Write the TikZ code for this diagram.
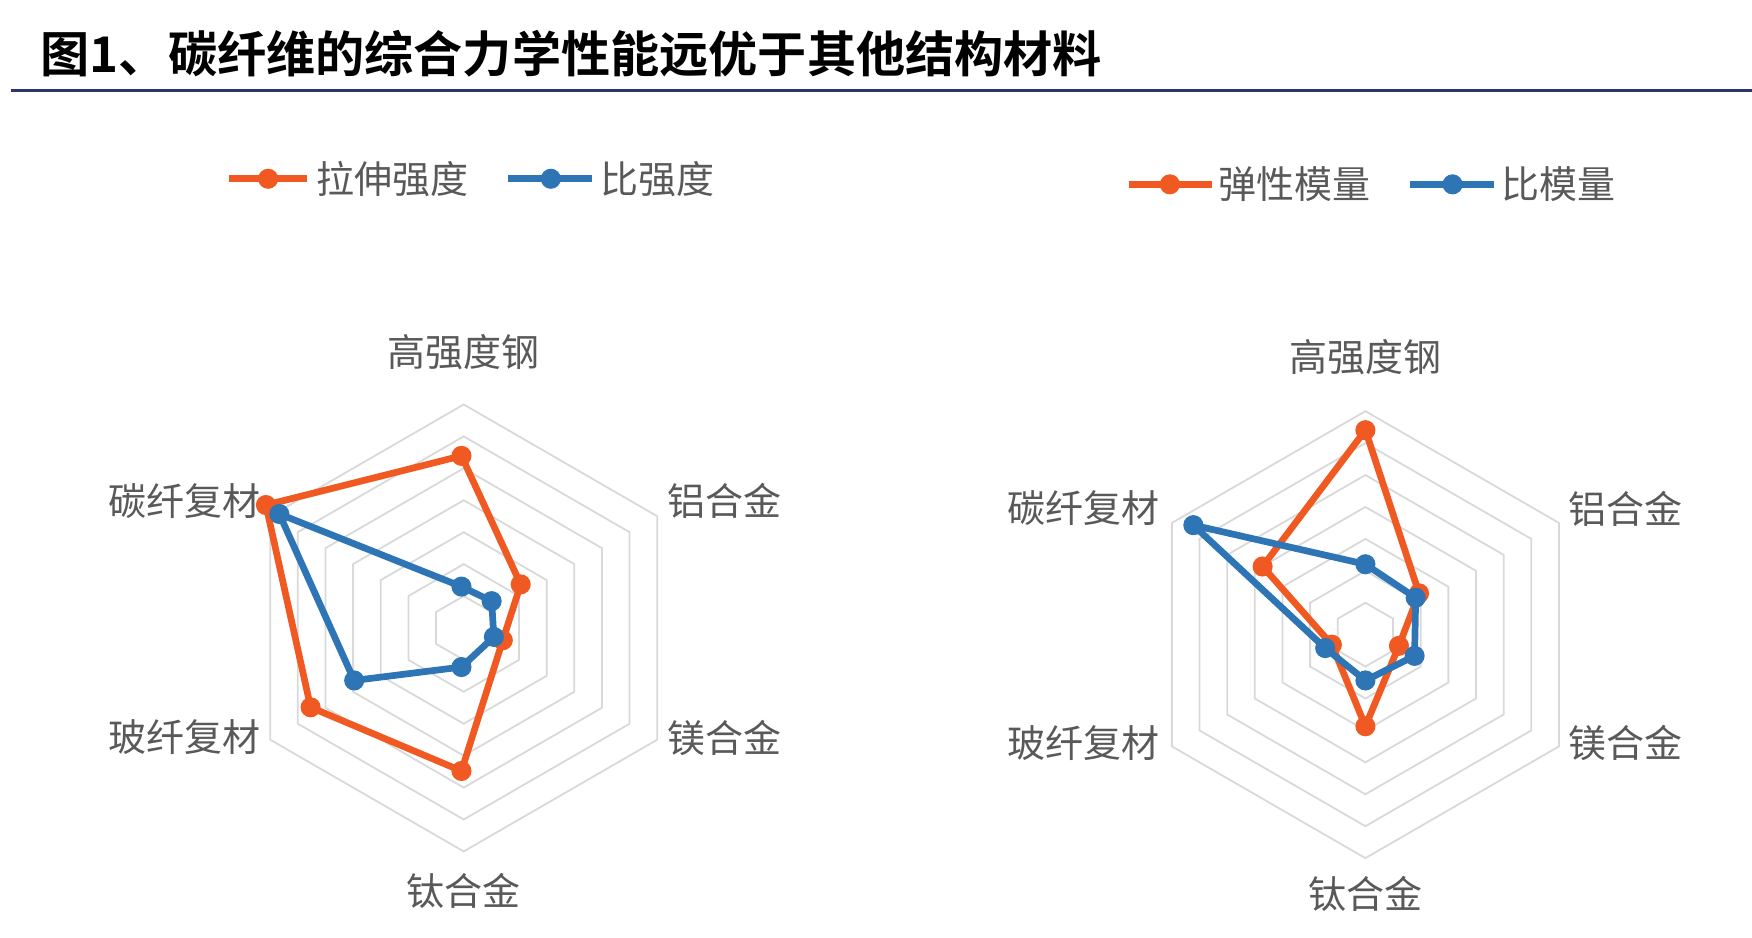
\documentclass[tikz,border=0pt]{standalone}
\usepackage{fontspec}
\usetikzlibrary{calc}
\newfontfamily\cjk{Noto Sans CJK SC}
\newfontfamily\cjkb{Noto Sans CJK SC Bold}
\definecolor{org}{HTML}{F05A22}
\definecolor{blu}{HTML}{2E75B6}
\definecolor{lab}{HTML}{595959}
\definecolor{grd}{HTML}{D9D9D9}
\definecolor{navy}{HTML}{2F3469}
\begin{document}
\begin{tikzpicture}[x=0.5pt,y=-0.5pt,
  lbl/.style={font=\cjk\fontsize{17}{17}\selectfont,text=lab,inner sep=0},
  dot/.style={circle,inner sep=0,minimum size=9pt},
  ser/.style={line width=3pt,line join=round},
  ring/.style={draw=grd,line width=0.8pt}]
\useasboundingbox (0,0) rectangle (1568,839);
\fill[white] (0,0) rectangle (1568,839);
\node[anchor=west,inner sep=0,font=\cjkb\fontsize{22}{22}\selectfont] (title) at (36,48) {图1、碳纤维的综合力学性能远优于其他结构材料};
\draw[navy,line width=1.5pt] (10,81) -- (1568,81);
% rings
\foreach \cx/\cy in {415/562,1222/568}{
  \foreach \k in {1,...,7}{
    \pgfmathsetmacro\r{\k*200/7}
    \draw[ring] ($(\cx,\cy)+(0,-\r)$) -- ($(\cx,\cy)+(0.866*\r,-0.5*\r)$) -- ($(\cx,\cy)+(0.866*\r,0.5*\r)$) -- ($(\cx,\cy)+(0,\r)$) -- ($(\cx,\cy)+(-0.866*\r,0.5*\r)$) -- ($(\cx,\cy)+(-0.866*\r,-0.5*\r)$) -- cycle;
  }
}
% left chart
\foreach \n/\p in {la1/{413,408},la2/{466,523},la3/{450,573},la4/{413,690},la5/{278,633},la6/{238,452}}{\coordinate (\n) at (\p);}
\foreach \n/\p in {lb1/{413,525},lb2/{440,538},lb3/{442,570},lb4/{413,597},lb5/{317,609},lb6/{250,460}}{\coordinate (\n) at (\p);}
\draw[ser,org] (la1)--(la2)--(la3)--(la4)--(la5)--(la6)--cycle;
\foreach \n in {la1,la2,la3,la4,la5,la6}{\node[dot,fill=org] at (\n){};}
\draw[ser,blu] (lb1)--(lb2)--(lb3)--(lb4)--(lb5)--(lb6)--cycle;
\foreach \n in {lb1,lb2,lb3,lb4,lb5,lb6}{\node[dot,fill=blu] at (\n){};}
% right chart
\foreach \n/\p in {ra1/{1222,385},ra2/{1270,531},ra3/{1252,578},ra4/{1222,650},ra5/{1192,577},ra6/{1130,507}}{\coordinate (\n) at (\p);}
\foreach \n/\p in {rb1/{1222,505},rb2/{1267,535},rb3/{1266,587},rb4/{1222,609},rb5/{1186,580},rb6/{1068,470}}{\coordinate (\n) at (\p);}
\draw[ser,org] (ra1)--(ra2)--(ra3)--(ra4)--(ra5)--(ra6)--cycle;
\foreach \n in {ra1,ra2,ra3,ra4,ra5,ra6}{\node[dot,fill=org] at (\n){};}
\draw[ser,blu] (rb1)--(rb2)--(rb3)--(rb4)--(rb5)--(rb6)--cycle;
\foreach \n in {rb1,rb2,rb3,rb4,rb5,rb6}{\node[dot,fill=blu] at (\n){};}
% axis labels
\node[lbl] (l1) at (415,315) {高强度钢};
\node[lbl] (l2) at (648,448) {铝合金};
\node[lbl] (l3) at (648,660) {镁合金};
\node[lbl] (l4) at (415,797) {钛合金};
\node[lbl] (l5) at (165,448) {碳纤复材};
\node[lbl] (l6) at (165,660) {玻纤复材};
\node[lbl] (r1) at (1222,320) {高强度钢};
\node[lbl] (r2) at (1455,455) {铝合金};
\node[lbl] (r3) at (1455,665) {镁合金};
\node[lbl] (r4) at (1222,800) {钛合金};
\node[lbl] (r5) at (970,455) {碳纤复材};
\node[lbl] (r6) at (970,665) {玻纤复材};
% legends
\coordinate (g1a) at (205,160); \coordinate (g1b) at (275,160);
\draw[ser,org] (g1a)--(g1b); \node[dot,fill=org] at (240,160){};
\node[lbl,anchor=west] (g1t) at (283,160) {拉伸强度};
\coordinate (g2a) at (455,160); \coordinate (g2b) at (530,160);
\draw[ser,blu] (g2a)--(g2b); \node[dot,fill=blu] at (493,160){};
\node[lbl,anchor=west] (g2t) at (537,160) {比强度};
\coordinate (g3a) at (1010,165); \coordinate (g3b) at (1085,165);
\draw[ser,org] (g3a)--(g3b); \node[dot,fill=org] at (1047,165){};
\node[lbl,anchor=west] (g3t) at (1090,165) {弹性模量};
\coordinate (g4a) at (1262,165); \coordinate (g4b) at (1337,165);
\draw[ser,blu] (g4a)--(g4b); \node[dot,fill=blu] at (1300,165){};
\node[lbl,anchor=west] (g4t) at (1343,165) {比模量};
\end{tikzpicture}
\end{document}
